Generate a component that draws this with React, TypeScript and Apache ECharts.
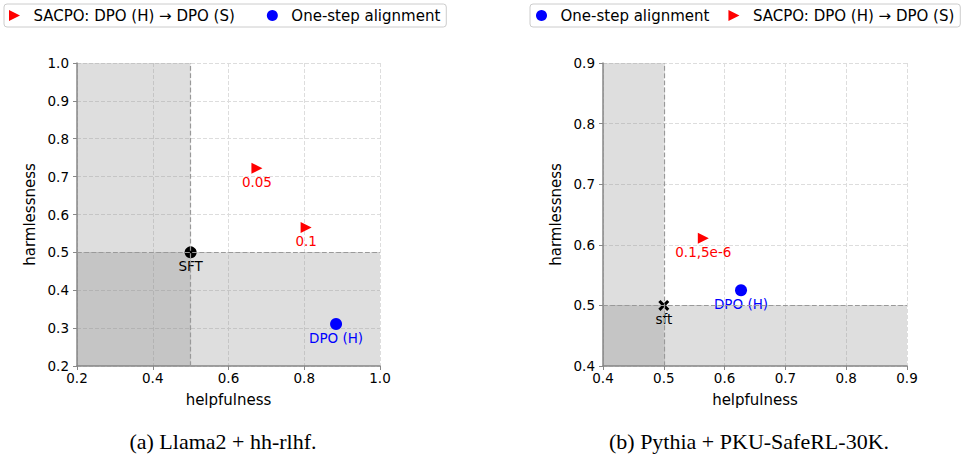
import React, { useEffect, useRef } from "react";
import * as echarts from "echarts";

const SACPO_NAME = "SACPO: DPO (H) \u2192 DPO (S)";
const ONE_NAME = "One-step alignment";

// Panel (a): Llama2 + hh-rlhf
const aSacpo = [
  [0.675, 0.722],
  [0.805, 0.566],
];
const aSacpoLabels = ["0.05", "0.1"];
const aOneStep = [[0.884, 0.311]];
const aOneStepLabels = ["DPO (H)"];
const aSft = [[0.5, 0.5]];
const aSftLabels = ["SFT"];
const aAxisX = { min: 0.2, max: 1.0, interval: 0.2 };
const aAxisY = { min: 0.2, max: 1.0, interval: 0.1 };

// Panel (b): Pythia + PKU-SafeRL-30K
const bSacpo = [[0.565, 0.611]];
const bSacpoLabels = ["0.1,5e-6"];
const bOneStep = [[0.627, 0.525]];
const bOneStepLabels = ["DPO (H)"];
const bSft = [[0.5, 0.5]];
const bSftLabels = ["sft"];
const bAxisX = { min: 0.4, max: 0.9, interval: 0.1 };
const bAxisY = { min: 0.4, max: 0.9, interval: 0.1 };

const captions = ["(a) Llama2 + hh-rlhf.", "(b) Pythia + PKU-SafeRL-30K."];

const FONT = "DejaVu Sans";
const TRI = "path://M0,0L10,5L0,10Z";
const XMARK =
  "path://M0,2L2,0L5,3L8,0L10,2L7,5L10,8L8,10L5,7L2,10L0,8L3,5Z";

function withLabels(points: number[][], labels: string[]) {
  return points.map((p, i) => ({ value: p, label: { formatter: labels[i] } }));
}

function makeAxisX(idx: number, r: { min: number; max: number; interval: number }) {
  return {
    type: "value",
    gridIndex: idx,
    min: r.min,
    max: r.max,
    interval: r.interval,
    name: "helpfulness",
    nameLocation: "middle",
    nameGap: 26,
    nameTextStyle: { fontFamily: FONT, fontSize: 15, color: "#000" },
    axisLine: { show: true, onZero: false, lineStyle: { color: "#888", width: 1.5 } },
    axisTick: { show: true, inside: false, length: 4, lineStyle: { color: "#888" } },
    axisLabel: {
      fontFamily: FONT,
      fontSize: 13.5,
      color: "#000",
      margin: 5,
      formatter: (v: number) => v.toFixed(1),
    },
    splitLine: { show: true, lineStyle: { color: "#ddd", type: "dashed", width: 1 } },
  };
}

function makeAxisY(idx: number, r: { min: number; max: number; interval: number }) {
  return {
    type: "value",
    gridIndex: idx,
    min: r.min,
    max: r.max,
    interval: r.interval,
    name: "harmlessness",
    nameLocation: "middle",
    nameGap: 40,
    nameRotate: 90,
    nameTextStyle: { fontFamily: FONT, fontSize: 15, color: "#000" },
    axisLine: { show: true, onZero: false, lineStyle: { color: "#888", width: 1.5 } },
    axisTick: { show: true, inside: false, length: 4, lineStyle: { color: "#888" } },
    axisLabel: {
      fontFamily: FONT,
      fontSize: 13.5,
      color: "#000",
      margin: 8,
      formatter: (v: number) => v.toFixed(1),
    },
    splitLine: { show: true, lineStyle: { color: "#ddd", type: "dashed", width: 1 } },
  };
}

function refSeries(idx: number, sft: number[][], rx: any, ry: any) {
  const cx = sft[0][0];
  const cy = sft[0][1];
  return {
    type: "line",
    name: "ref" + idx,
    xAxisIndex: idx,
    yAxisIndex: idx,
    data: sft,
    showSymbol: false,
    symbol: "none",
    lineStyle: { opacity: 0 },
    silent: true,
    z: 1,
    markArea: {
      silent: true,
      itemStyle: { color: "rgba(128,128,128,0.26)" },
      data: [
        [{ coord: [rx.min, ry.min] }, { coord: [cx, ry.max] }],
        [{ coord: [rx.min, ry.min] }, { coord: [rx.max, cy] }],
      ],
    },
    markLine: {
      silent: true,
      symbol: ["none", "none"],
      label: { show: false },
      lineStyle: { color: "#999", type: "dashed", width: 1.2 },
      data: [{ xAxis: cx }, { yAxis: cy }],
    },
  };
}

function labelStyle(color: string) {
  return {
    show: true,
    position: "bottom",
    distance: 1,
    fontFamily: FONT,
    fontSize: 13.5,
    color,
  };
}

export default function App() {
  const ref = useRef<HTMLDivElement>(null);
  useEffect(() => {
    if (!ref.current) return;
    const chart = echarts.init(ref.current, undefined, { renderer: "svg" });
    const legendCommon = {
      orient: "horizontal",
      itemWidth: 28,
      itemHeight: 11,
      borderColor: "#ccc",
      borderWidth: 1,
      borderRadius: 3,
      selectedMode: false,
      textStyle: { fontFamily: FONT, fontSize: 15, color: "#000" },
    };
    chart.setOption({
      animation: false,
      backgroundColor: "#fff",
      legend: [
        {
          ...legendCommon,
          left: 4,
          top: 4,
          padding: [4, 6, 4, 5],
          itemGap: 32,
          data: [
            { name: SACPO_NAME, icon: TRI },
            { name: ONE_NAME, icon: "circle" },
          ],
        },
        {
          ...legendCommon,
          left: 530,
          top: 4,
          width: 600,
          padding: [4, 6, 4, 6],
          itemGap: 19,
          data: [
            { name: ONE_NAME, icon: "circle" },
            { name: SACPO_NAME, icon: TRI },
          ],
        },
      ],
      grid: [
        { left: 77, top: 63, width: 303, height: 303, outerBoundsMode: "none" },
        { left: 603, top: 63, width: 304, height: 303, outerBoundsMode: "none" },
      ],
      xAxis: [makeAxisX(0, aAxisX), makeAxisX(1, bAxisX)],
      yAxis: [makeAxisY(0, aAxisY), makeAxisY(1, bAxisY)],
      graphic: [
        {
          type: "text",
          x: 223,
          y: 441,
          style: {
            text: captions[0],
            fontFamily: "Liberation Serif",
            fontSize: 22,
            fill: "#000",
            align: "center",
            verticalAlign: "middle",
          },
        },
        {
          type: "text",
          x: 749,
          y: 441,
          style: {
            text: captions[1],
            fontFamily: "Liberation Serif",
            fontSize: 22,
            fill: "#000",
            align: "center",
            verticalAlign: "middle",
          },
        },
      ],
      series: [
        refSeries(0, aSft, aAxisX, aAxisY),
        refSeries(1, bSft, bAxisX, bAxisY),
        {
          type: "scatter",
          name: SACPO_NAME,
          xAxisIndex: 0,
          yAxisIndex: 0,
          symbol: TRI,
          symbolSize: 11,
          itemStyle: { color: "#ff0000", opacity: 1 },
          label: labelStyle("#ff0000"),
          data: withLabels(aSacpo, aSacpoLabels),
          z: 3,
        },
        {
          type: "scatter",
          name: ONE_NAME,
          xAxisIndex: 0,
          yAxisIndex: 0,
          symbol: "circle",
          symbolSize: 12,
          itemStyle: { color: "#0000ff", opacity: 1 },
          label: labelStyle("#0000ff"),
          data: withLabels(aOneStep, aOneStepLabels),
          z: 3,
        },
        {
          type: "scatter",
          name: "SFT-a",
          xAxisIndex: 0,
          yAxisIndex: 0,
          symbol: "circle",
          symbolSize: 12,
          itemStyle: { color: "#000", opacity: 1 },
          label: labelStyle("#000"),
          data: withLabels(aSft, aSftLabels),
          z: 3,
        },
        {
          type: "scatter",
          name: ONE_NAME,
          xAxisIndex: 1,
          yAxisIndex: 1,
          symbol: "circle",
          symbolSize: 12,
          itemStyle: { color: "#0000ff", opacity: 1 },
          label: labelStyle("#0000ff"),
          data: withLabels(bOneStep, bOneStepLabels),
          z: 3,
        },
        {
          type: "scatter",
          name: SACPO_NAME,
          xAxisIndex: 1,
          yAxisIndex: 1,
          symbol: TRI,
          symbolSize: 11,
          itemStyle: { color: "#ff0000", opacity: 1 },
          label: labelStyle("#ff0000"),
          data: withLabels(bSacpo, bSacpoLabels),
          z: 3,
        },
        {
          type: "scatter",
          name: "SFT-b",
          xAxisIndex: 1,
          yAxisIndex: 1,
          symbol: XMARK,
          symbolSize: 11,
          itemStyle: { color: "#000", opacity: 1 },
          label: labelStyle("#000"),
          data: withLabels(bSft, bSftLabels),
          z: 3,
        },
      ],
    });
    return () => chart.dispose();
  }, []);
  return (
    <div
      ref={ref}
      style={{ position: "absolute", left: 0, top: 0, width: 969, height: 456 }}
    />
  );
}
